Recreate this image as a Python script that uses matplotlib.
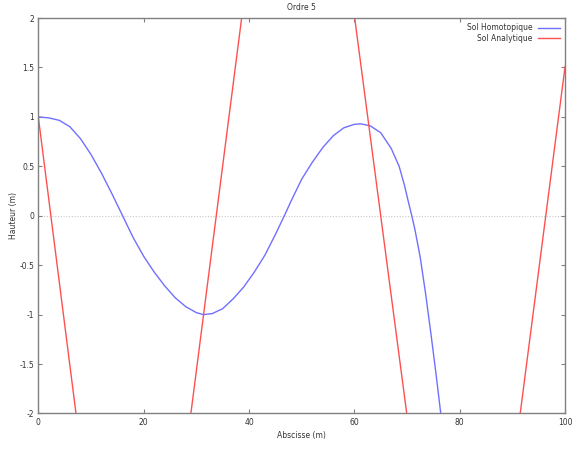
#!/usr/bin/env python
"""Ordre 5 : solution homotopique vs analytique."""
import matplotlib
matplotlib.use('Agg')
import matplotlib.pyplot as plt

# Sol Homotopique
x_homo = [0, 2, 4, 6, 8, 10, 12, 14, 16, 18, 20, 22, 24, 26, 28, 30, 31.3,
          33, 35, 37, 39, 41, 43, 45, 46.7, 48, 50, 52, 54, 56, 58, 60, 61.2,
          63, 65, 67, 68.5, 69.5, 70.3, 70.9, 71.5, 72.5, 73.5, 74.5, 75.5,
          76.4, 77.0]
y_homo = [1.0, 0.99, 0.965, 0.90, 0.78, 0.62, 0.43, 0.22, 0.0, -0.22, -0.41,
          -0.57, -0.71, -0.83, -0.92, -0.98, -1.0, -0.99, -0.94, -0.84, -0.72,
          -0.57, -0.40, -0.19, 0.0, 0.15, 0.37, 0.54, 0.69, 0.81, 0.89, 0.925,
          0.93, 0.91, 0.84, 0.68, 0.50, 0.31, 0.13, 0.0, -0.14, -0.42, -0.78,
          -1.18, -1.6, -2.0, -2.3]

# Sol Analytique (vertices, some fall outside the visible range)
x_ana = [0, 18.0, 49.2, 80.8, 100]
y_ana = [1.0, -6.55, 6.4, -6.4, 1.51]

xticks = [0, 20, 40, 60, 80, 100]
yticks = [-2, -1.5, -1, -0.5, 0, 0.5, 1, 1.5, 2]

fig = plt.figure(figsize=(5.84, 4.63), dpi=100)
ax = fig.add_axes([0.0656, 0.107, 0.902, 0.854])

ax.axhline(0, color='#c8c8c8', lw=0.8, ls=(0, (1, 1.5)), zorder=0)
ax.plot(x_homo, y_homo, color='#7070ff', lw=1, label='Sol Homotopique')
ax.plot(x_ana, y_ana, color='#ff5050', lw=1, label='Sol Analytique')

ax.set_xlim(0, 100)
ax.set_ylim(-2, 2)
ax.set_xticks(xticks)
ax.set_yticks(yticks)
ax.set_xticklabels([f'{t:g}' for t in xticks])
ax.set_yticklabels([f'{t:g}' for t in yticks])
ax.tick_params(direction='in', length=3, width=0.8, labelsize=5.5,
               colors='#808080', labelcolor='#333333',
               top=True, right=True, pad=3)
for s in ax.spines.values():
    s.set_color('#808080')
    s.set_linewidth(1)

ax.set_title('Ordre 5', fontsize=5.5, color='#333333', pad=6)
ax.set_xlabel('Abscisse (m)', fontsize=5.5, color='#333333', labelpad=3)
ax.set_ylabel('Hauteur (m)', fontsize=5.5, color='#333333', labelpad=1)

ax.legend(loc='upper right', frameon=False, markerfirst=False, fontsize=5.5,
          handlelength=2.8, handletextpad=0.8, labelspacing=0.15,
          borderaxespad=0.3, labelcolor='#333333')

fig.savefig('out.png', dpi=100)
